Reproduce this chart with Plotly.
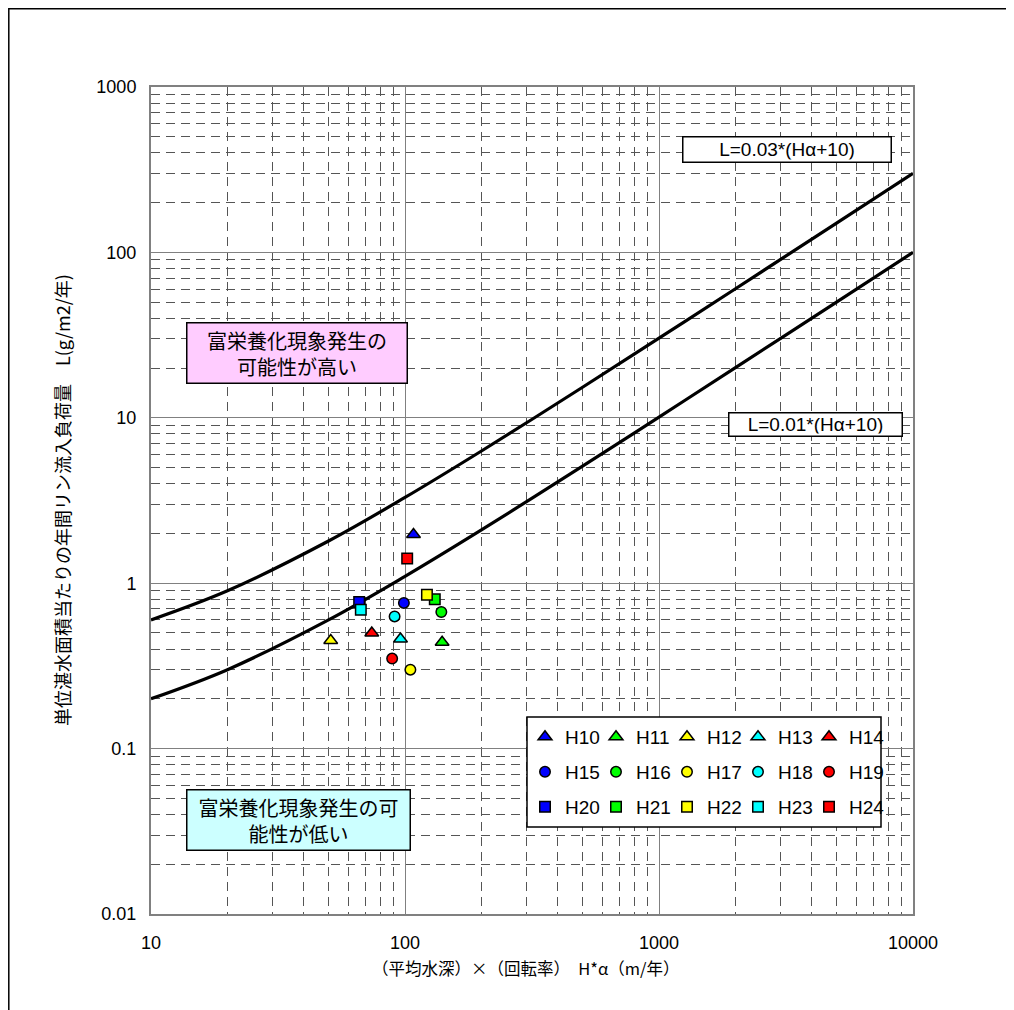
import plotly.graph_objects as go

# ---------------- data ----------------
series_names = ["H10", "H11", "H12", "H13", "H14",
                "H15", "H16", "H17", "H18", "H19",
                "H20", "H21", "H22", "H23", "H24"]
h_alpha = [108, 140, 51, 96, 74,
           99, 139, 105, 91, 89,
           66, 131, 122, 67, 102]
load_L = [1.97, 0.44, 0.45, 0.46, 0.50,
          0.76, 0.67, 0.30, 0.63, 0.35,
          0.77, 0.80, 0.85, 0.69, 1.41]
series_colors = ["#0000FF", "#00FF00", "#FFFF00", "#00FFFF", "#FF0000"] * 3
series_symbols = ["triangle-up"] * 5 + ["circle"] * 5 + ["square"] * 5

line_x = [10, 20, 50, 100, 200, 500, 1000, 2000, 5000, 10000]
line_upper = [0.6, 0.9, 1.8, 3.3, 6.3, 15.3, 30.3, 60.3, 150.3, 300.3]
line_lower = [0.2, 0.3, 0.6, 1.1, 2.1, 5.1, 10.1, 20.1, 50.1, 100.1]

x_tickvals = [10, 100, 1000, 10000]
x_ticktext = ["10", "100", "1000", "10000"]
y_tickvals = [0.01, 0.1, 1, 10, 100, 1000]
y_ticktext = ["0.01", "0.1", "1", "10", "100", "1000"]

x_title = "（平均水深）×（回転率）　H*α（m/年）"
y_title = "単位湛水面積当たりの年間リン流入負荷量　L(g/m2/年)"
label_upper = "L=0.03*(Hα+10)"
label_lower = "L=0.01*(Hα+10)"
text_high = "富栄養化現象発生の<br>可能性が高い"
text_low = "富栄養化現象発生の可<br>能性が低い"

# ---------------- layout geometry (screen pixels; page has 8px body margin) ----------------
OFF = 8
W, H = 1006, 1002
PL, PR, PT, PB = 151, 913, 87, 914
pw, ph = PR - PL, PB - PT


def px(x):
    return (x - PL) / pw


def py(y):
    return (PB - y) / ph


LAT = "Liberation Sans, Arial, Noto Sans CJK JP, sans-serif"
CJK = "Noto Sans CJK JP, sans-serif"

fig = go.Figure()

for ys in (line_upper, line_lower):
    fig.add_trace(go.Scatter(
        x=line_x, y=ys, mode="lines",
        line=dict(color="black", width=3.2, shape="spline", smoothing=1.0),
        showlegend=False, hoverinfo="skip"))

legend_ids = ["legend", "legend2", "legend3"]
for i, name in enumerate(series_names):
    fig.add_trace(go.Scatter(
        x=[h_alpha[i]], y=[load_L[i]], mode="markers", name=name,
        legend=legend_ids[i // 5],
        legendwidth=44 if i % 5 == 4 else 26,
        marker=dict(symbol=series_symbols[i], color=series_colors[i],
                    size=12 if series_symbols[i] == "triangle-up" else 10.5,
                    line=dict(color="black", width=1.5))))

grid_minor = dict(showgrid=True, gridcolor="#555555", gridwidth=1,
                  griddash="9px,6px", dtick="D1", ticks="")

fig.update_xaxes(
    type="log", range=[1, 4], tickmode="array",
    tickvals=x_tickvals, ticktext=x_ticktext,
    showgrid=True, gridcolor="#808080", gridwidth=1,
    minor=grid_minor, ticks="", ticklabelstandoff=11,
    showline=True, linecolor="#808080", linewidth=2, mirror=True,
    tickfont=dict(family=LAT, size=18, color="black"), zeroline=False)
fig.update_yaxes(
    type="log", range=[-2, 3], tickmode="array",
    tickvals=y_tickvals, ticktext=y_ticktext,
    showgrid=True, gridcolor="#808080", gridwidth=1,
    minor=grid_minor, ticks="", ticklabelstandoff=9,
    showline=True, linecolor="#808080", linewidth=2, mirror=True,
    tickfont=dict(family=LAT, size=18, color="black"), zeroline=False)


def box(text, cx, cy, w, h, bg, fam, size):
    return dict(text=text, x=px(cx), y=py(cy), xref="paper", yref="paper",
                xanchor="center", yanchor="middle", showarrow=False,
                font=dict(family=fam, size=size, color="black"),
                width=w, height=h, borderpad=2, bgcolor=bg,
                bordercolor="black", borderwidth=1.5)


annotations = [
    dict(text=y_title, x=px(62), y=py(500), xref="paper", yref="paper",
         xanchor="center", yanchor="middle",
         textangle=-90, showarrow=False, font=dict(family=CJK, size=18, color="black")),
    dict(text=x_title, x=px(526), y=py(968), xref="paper", yref="paper",
         xanchor="center", yanchor="middle",
         showarrow=False, font=dict(family=CJK, size=16.5, color="black")),
    box(label_upper, 787, 149.5, 203, 20, "white", LAT, 19),
    box(label_lower, 815, 424, 168, 18, "white", LAT, 19),
    box(text_high, 297, 353, 215, 55, "#FFCCFF", CJK, 20),
    box(text_low, 298.5, 820, 218, 55, "#CCFFFF", CJK, 20),
]

legend_rows_y = [737, 772, 807]
legend_common = dict(orientation="h", xanchor="left", yanchor="middle",
                     bgcolor="rgba(0,0,0,0)", borderwidth=0,
                     font=dict(family=LAT, size=19, color="black"),
                     itemwidth=30, entrywidthmode="pixels")

fig.update_layout(
    width=W, height=H,
    margin=dict(l=PL - OFF, r=W - (PR - OFF), t=PT - OFF, b=H - (PB - OFF), pad=0),
    paper_bgcolor="white", plot_bgcolor="white",
    annotations=annotations,
    shapes=[
        dict(type="rect", xref="paper", yref="paper",
             x0=px(8.8), x1=px(1030), y0=py(1030), y1=py(8.8),
             line=dict(color="black", width=1.5), fillcolor="rgba(0,0,0,0)"),
        dict(type="rect", xref="paper", yref="paper", layer="above",
             x0=px(527), x1=px(881), y0=py(827), y1=py(717),
             line=dict(color="black", width=1.5), fillcolor="white"),
    ],
    legend=dict(x=px(525), y=py(legend_rows_y[0]), **legend_common),
    legend2=dict(x=px(525), y=py(legend_rows_y[1]), **legend_common),
    legend3=dict(x=px(525), y=py(legend_rows_y[2]), **legend_common),
    showlegend=True,
)

fig.write_html("out.html")
